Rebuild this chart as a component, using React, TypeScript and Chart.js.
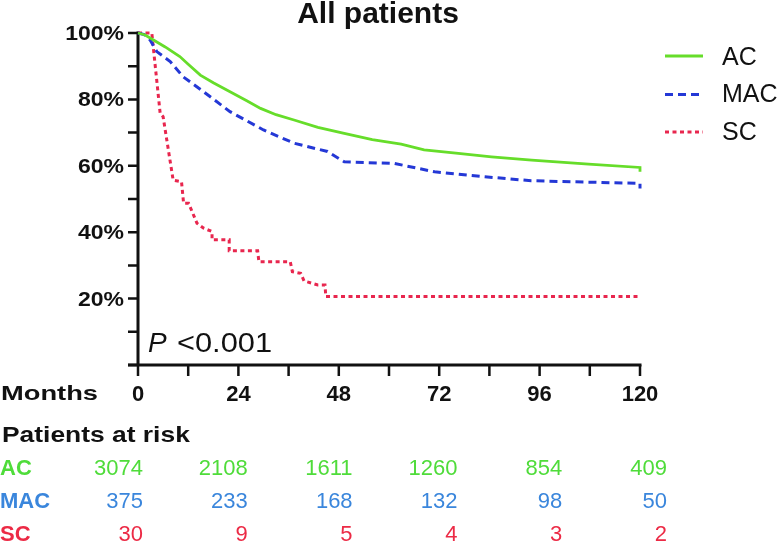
import React, { useEffect, useRef } from "react";
import { Chart, registerables } from "chart.js";

Chart.register(...registerables);

// ---- Data ----
const acMonths = [0, 1.7, 3.7, 6.5, 10, 12, 14.9, 18, 22, 26, 29.3, 33, 37.3, 43, 49.3, 56, 62.9, 68.4, 76, 84.5, 94.1, 107.7, 120, 120];
const acSurv = [100, 99.4, 97.9, 95.8, 92.9, 90.6, 87.3, 85.0, 82.3, 79.6, 77.3, 75.4, 73.8, 71.6, 69.8, 67.9, 66.5, 64.8, 63.8, 62.7, 61.7, 60.5, 59.5, 58.2];

const macMonths = [0, 1.5, 2.9, 4.5, 7.7, 10.8, 15.7, 22, 30, 37.3, 45.3, 49.3, 61.3, 70.9, 82.9, 94, 120, 120];
const macSurv = [100, 99.5, 97.9, 94.4, 91.4, 86.8, 82.3, 76.3, 70.8, 66.8, 64.3, 61.2, 60.7, 58.2, 56.7, 55.5, 54.7, 53.2];

const scMonths = [0, 3.3, 5.3, 6.0, 8.4, 10.4, 10.9, 12.1, 14.1, 15.7, 17.7, 17.7, 21.8, 21.8, 28.6, 28.9, 36.4, 36.9, 38.9, 39.7, 43, 44.7, 44.9, 120];
const scSurv = [100, 100, 75.8, 74.8, 55.7, 55.2, 48.7, 48.7, 42.7, 41.2, 40.2, 37.7, 37.7, 34.4, 34.4, 31.1, 31.1, 28.1, 27.6, 25.3, 24.1, 24.1, 20.6, 20.6];

const seriesNames = ["AC", "MAC", "SC"];
const yTicks = [0, 10, 20, 30, 40, 50, 60, 70, 80, 90, 100];
const yLabelled = [20, 40, 60, 80, 100];
const xTicks = [0, 12, 24, 36, 48, 60, 72, 84, 96, 108, 120];
const xLabelled = [0, 24, 48, 72, 96, 120];

const riskTimes = [0, 24, 48, 72, 96, 120];
const acRisk = [3074, 2108, 1611, 1260, 854, 409];
const macRisk = [375, 233, 168, 132, 98, 50];
const scRisk = [30, 9, 5, 4, 3, 2];

const titleText = "All patients";
const pText = "<0.001";

// ---- Styles ----
const FONT = '"Liberation Sans", Arial, Helvetica, sans-serif';
const AC_LINE = "#66dd2a";
const MAC_LINE = "#2438d6";
const SC_LINE = "#e8264e";
const AC_TEXT = "#4fdc3a";
const MAC_TEXT = "#3a86dc";
const SC_TEXT = "#ec2a45";

function pts(xs: number[], ys: number[]) {
  return xs.map((x, i) => ({ x, y: ys[i] }));
}

function txt(
  ctx: CanvasRenderingContext2D,
  s: string,
  x: number,
  y: number,
  font: string,
  color: string,
  align: CanvasTextAlign,
  hs = 1
) {
  ctx.save();
  ctx.font = font;
  ctx.fillStyle = color;
  ctx.textBaseline = "alphabetic";
  ctx.textAlign = align;
  ctx.translate(x, y);
  ctx.scale(hs, 1);
  ctx.fillText(s, 0, 0);
  ctx.restore();
}

const decorPlugin = {
  id: "kmDecor",
  beforeDatasetsDraw(chart: any) {
    const ctx: CanvasRenderingContext2D = chart.ctx;
    const xs = chart.scales.x;
    const ys = chart.scales.y;
    const x0 = xs.getPixelForValue(0);
    const x1 = xs.getPixelForValue(120);
    const y0 = ys.getPixelForValue(0);
    const y1 = ys.getPixelForValue(100);
    ctx.save();
    ctx.strokeStyle = "#111";
    ctx.lineWidth = 3;
    ctx.lineCap = "butt";
    ctx.beginPath();
    ctx.moveTo(x0, y1 - 1.5);
    ctx.lineTo(x0, y0 + 1.5);
    ctx.moveTo(x0 - 10, y0);
    ctx.lineTo(x1 + 1.5, y0);
    ctx.stroke();
    ctx.lineWidth = 2.5;
    ctx.beginPath();
    yTicks.forEach((v) => {
      const y = ys.getPixelForValue(v);
      ctx.moveTo(x0 - 10, y);
      ctx.lineTo(x0, y);
    });
    xTicks.forEach((v) => {
      const x = xs.getPixelForValue(v);
      ctx.moveTo(x, y0);
      ctx.lineTo(x, y0 + 11);
    });
    ctx.stroke();
    ctx.restore();
  },
  afterDraw(chart: any) {
    const ctx: CanvasRenderingContext2D = chart.ctx;
    const xs = chart.scales.x;
    const ys = chart.scales.y;
    const x0 = xs.getPixelForValue(0);

    // title
    txt(ctx, titleText, 378, 23, `bold 30px ${FONT}`, "#111", "center", 1.0);

    // y labels
    yLabelled.forEach((v) => {
      txt(ctx, `${v}%`, x0 - 14, ys.getPixelForValue(v) + 7, `bold 20px ${FONT}`, "#111", "right", 1.15);
    });
    // x labels
    xLabelled.forEach((v) => {
      txt(ctx, `${v}`, xs.getPixelForValue(v), 401, `bold 22px ${FONT}`, "#111", "center", 1.0);
    });
    txt(ctx, "Months", 1, 400, `bold 21px ${FONT}`, "#111", "left", 1.3);

    // P value
    txt(ctx, "P", 148, 352, `italic 28px ${FONT}`, "#111", "left", 1.0);
    txt(ctx, pText, 177, 352, `28px ${FONT}`, "#111", "left", 1.1);

    // legend
    const legendColors = [AC_LINE, MAC_LINE, SC_LINE];
    const legendDash = [[], [8, 5], [4, 3.5]];
    const legendY = [56, 94.5, 132];
    const legendBase = [65, 102, 140];
    seriesNames.forEach((n, i) => {
      ctx.save();
      ctx.strokeStyle = legendColors[i];
      ctx.lineWidth = 3;
      ctx.setLineDash(legendDash[i]);
      ctx.beginPath();
      ctx.moveTo(665, legendY[i]);
      ctx.lineTo(703, legendY[i]);
      ctx.stroke();
      ctx.restore();
      txt(ctx, n, 722, legendBase[i], `25px ${FONT}`, "#111", "left", 1.0);
    });

    // risk table
    txt(ctx, "Patients at risk", 2, 442, `bold 22px ${FONT}`, "#111", "left", 1.2);
    const rows = [acRisk, macRisk, scRisk];
    const rowColors = [AC_TEXT, MAC_TEXT, SC_TEXT];
    const rowBase = [475, 508, 541];
    rows.forEach((r, ri) => {
      txt(ctx, seriesNames[ri], 0, rowBase[ri], `bold 22px ${FONT}`, rowColors[ri], "left", 1.0);
      r.forEach((val, ci) => {
        const x = xs.getPixelForValue(riskTimes[ci]) + 5 + ci * 4.4;
        txt(ctx, `${val}`, x, rowBase[ri], `22px ${FONT}`, rowColors[ri], "right", 1.0);
      });
    });
  },
};

export default function App() {
  const ref = useRef<HTMLCanvasElement | null>(null);
  useEffect(() => {
    if (!ref.current) return;
    const chart = new Chart(ref.current, {
      type: "line",
      data: {
        datasets: [
          {
            label: "AC",
            data: pts(acMonths, acSurv),
            borderColor: AC_LINE,
            borderWidth: 2.8,
            pointRadius: 0,
            tension: 0,
            clip: false,
          },
          {
            label: "MAC",
            data: pts(macMonths, macSurv),
            borderColor: MAC_LINE,
            borderWidth: 3,
            borderDash: [8, 5],
            pointRadius: 0,
            tension: 0,
            clip: false,
          },
          {
            label: "SC",
            data: pts(scMonths, scSurv),
            borderColor: SC_LINE,
            borderWidth: 3,
            borderDash: [4, 3.5],
            pointRadius: 0,
            tension: 0,
            clip: false,
          },
        ],
      } as any,
      options: {
        animation: false,
        responsive: false,
        devicePixelRatio: 1,
        layout: { padding: { left: 138, right: 141, top: 33, bottom: 180 } },
        scales: {
          x: { type: "linear", min: 0, max: 120, display: false },
          y: { type: "linear", min: 0, max: 100, display: false },
        },
        plugins: {
          legend: { display: false },
          title: { display: false },
          tooltip: { enabled: false },
        },
        events: [],
      } as any,
      plugins: [decorPlugin],
    });
    return () => chart.destroy();
  }, []);
  return (
    <div style={{ position: "fixed", left: 0, top: 0, width: 781, height: 545, background: "#fff" }}>
      <canvas ref={ref} width={781} height={545} style={{ width: 781, height: 545, display: "block" }} />
    </div>
  );
}
